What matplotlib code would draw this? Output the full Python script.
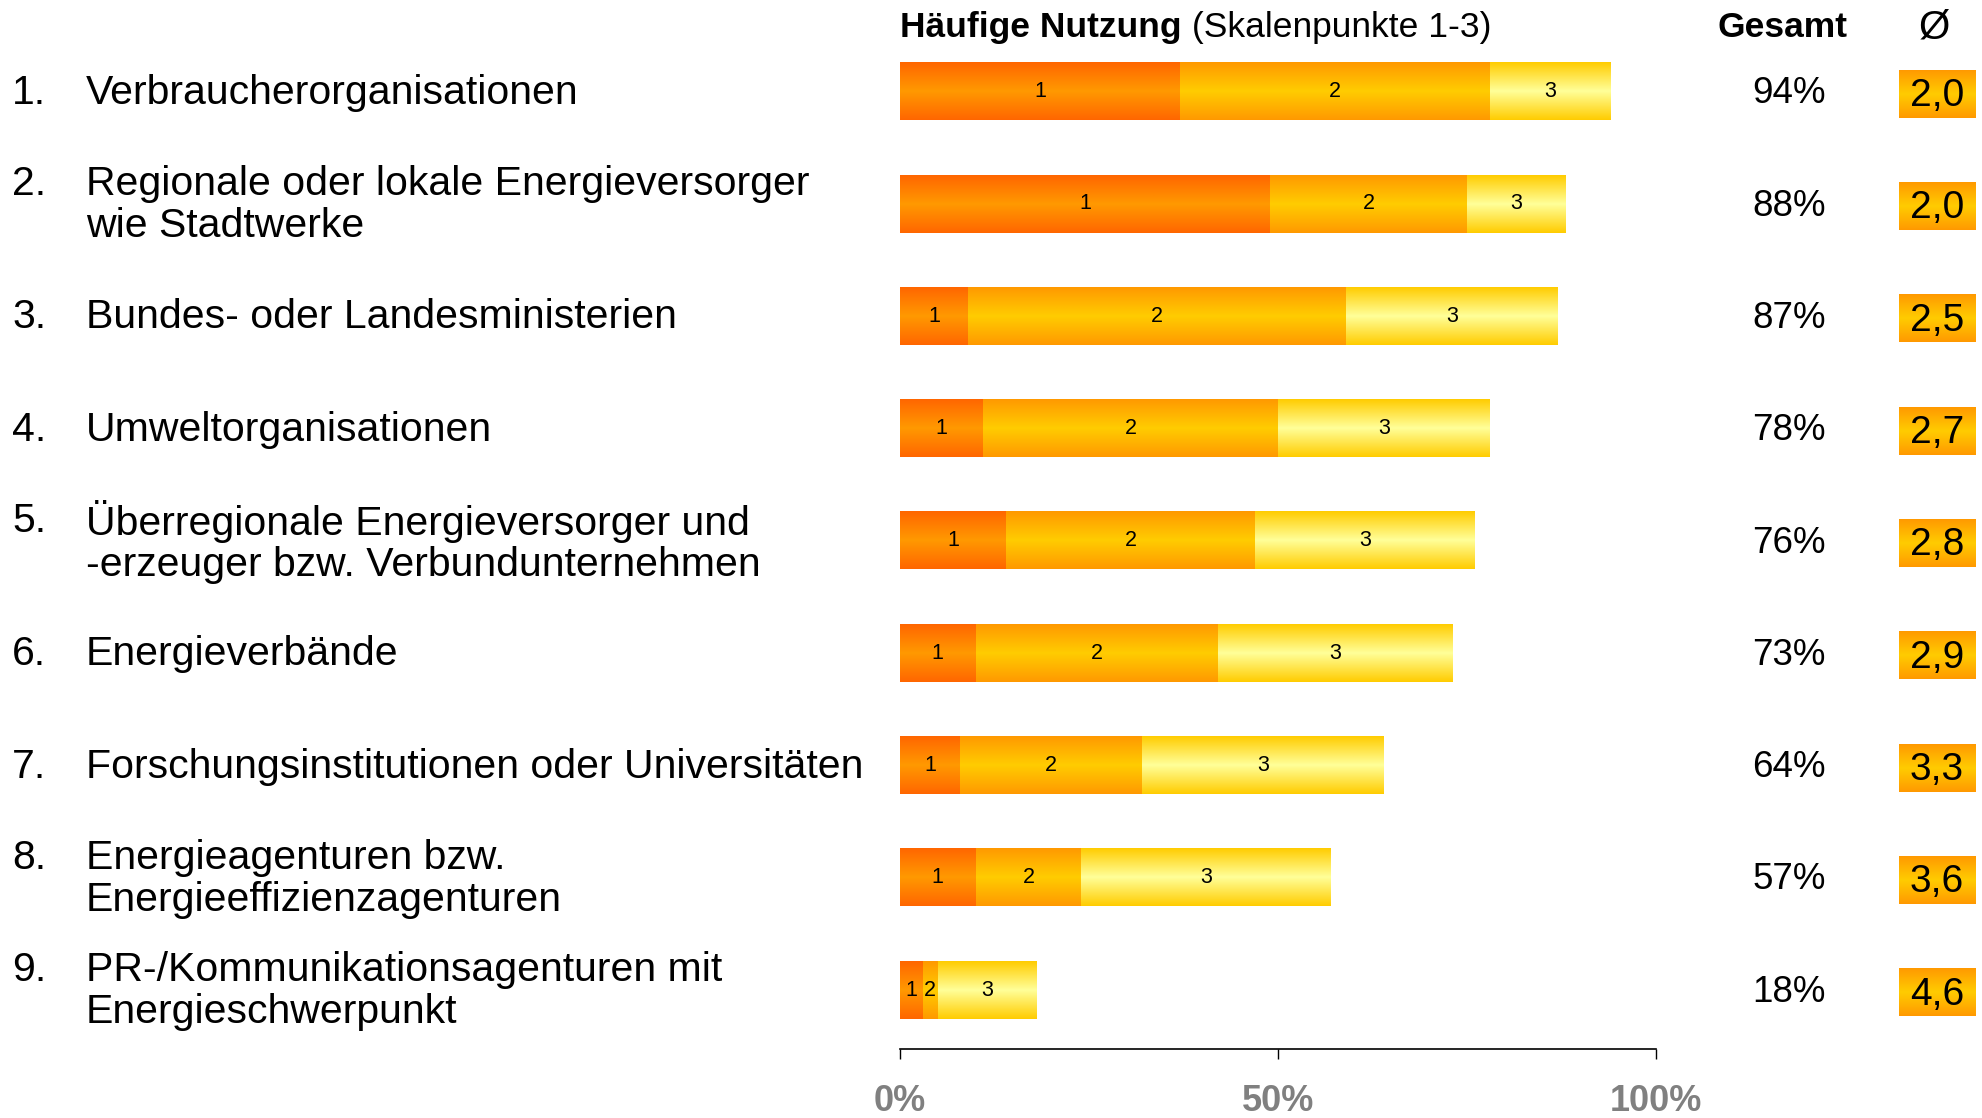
import numpy as np
import matplotlib
matplotlib.use("Agg")
import matplotlib.pyplot as plt
from matplotlib.colors import LinearSegmentedColormap
import matplotlib.transforms as mtransforms
from matplotlib import font_manager

plt.rcParams['font.family'] = ['Liberation Sans', 'DejaVu Sans']

# ---------------- data ----------------
labels = [
    "Verbraucherorganisationen",
    "Regionale oder lokale Energieversorger\nwie Stadtwerke",
    "Bundes- oder Landesministerien",
    "Umweltorganisationen",
    "Überregionale Energieversorger und\n-erzeuger bzw. Verbundunternehmen",
    "Energieverbände",
    "Forschungsinstitutionen oder Universitäten",
    "Energieagenturen bzw.\nEnergieeffizienzagenturen",
    "PR-/Kommunikationsagenturen mit\nEnergieschwerpunkt",
]
scale1 = [37, 49, 9, 11, 14, 10, 8, 10, 3]
scale2 = [41, 26, 50, 39, 33, 32, 24, 14, 2]
scale3 = [16, 13, 28, 28, 29, 31, 32, 33, 13]
gesamt = [94, 88, 87, 78, 76, 73, 64, 57, 18]
mean_vals = [2.0, 2.0, 2.5, 2.7, 2.8, 2.9, 3.3, 3.6, 4.6]
seg_names = ["1", "2", "3"]
xticks = [0, 50, 100]
xticklabels = ["0%", "50%", "100%"]

# ---------------- styling ----------------
W, H = 1982, 1118
fig = plt.figure(figsize=(W / 100, H / 100), dpi=100)
px_per_unit = 7.56
row_px = 112.3
ax_left_px = 900
ylim_bottom, ylim_top = 8.525, -0.75
ax_bottom_px = 1049
ax_top_px = ax_bottom_px - (ylim_bottom - ylim_top) * row_px
xmax = 142.5
ax = fig.add_axes([ax_left_px / W, 1 - ax_bottom_px / H,
                   xmax * px_per_unit / W, (ax_bottom_px - ax_top_px) / H])

grad_specs = [("#FF6600", "#FF9900"), ("#FF9900", "#FFCC00"), ("#FFCC00", "#FFFF99")]
box_spec = ("#FF9900", "#FFCC00")

N = 256
tri = np.abs(np.linspace(-1, 1, N)).reshape(-1, 1)


def gradient_fill(patch, edge, mid, z=2):
    cmap = LinearSegmentedColormap.from_list("g", [mid, edge])
    x, y = patch.get_x(), patch.get_y()
    w, h = patch.get_width(), patch.get_height()
    ax.imshow(tri, cmap=cmap, vmin=0, vmax=1, aspect='auto',
              extent=[x, x + w, y + h, y], zorder=z, interpolation='bilinear')
    patch.set_visible(False)


y = np.arange(len(labels))
bar_h = 0.51
lefts = np.zeros(len(labels))
for vals, name, (edge, mid) in zip([scale1, scale2, scale3], seg_names, grad_specs):
    vals = np.array(vals, dtype=float)
    bars = ax.barh(y, vals, left=lefts, height=bar_h)
    for b, v in zip(bars, vals):
        gradient_fill(b, edge, mid)
        ax.text(b.get_x() + b.get_width() / 2, b.get_y() + b.get_height() / 2, name,
                ha='center', va='center', fontsize=15.5, color='black', zorder=5)
    lefts += vals

# Gesamt column
x_gesamt = 117.6
for yi, g in zip(y, gesamt):
    ax.text(x_gesamt, yi + 0.02, f"{g}%", ha='center', va='center', fontsize=26.5,
            color='black')

# mean boxes
box_left, box_w = 132.1, 10.1
boxes = ax.barh(y + 0.02, [box_w] * len(y), left=box_left, height=0.427)
for b, m in zip(boxes, mean_vals):
    gradient_fill(b, *box_spec)
    ax.text(b.get_x() + b.get_width() / 2, b.get_y() + b.get_height() / 2 + 0.02,
            f"{m:.1f}".replace(".", ","), ha='center', va='center', fontsize=28,
            color='black', zorder=5)

# headers
hy = -0.57
t1 = ax.text(0, hy, "Häufige Nutzung", ha='left', va='center', fontsize=25.5,
             fontweight='bold')
fig.canvas.draw()
ax.annotate(" (Skalenpunkte 1-3)", xycoords=t1, xy=(1, 0), va='bottom', ha='left',
            fontsize=25.5)
ax.text(116.7, hy, "Gesamt", ha='center', va='center', fontsize=25.5, fontweight='bold')
ax.text(136.8, hy, "Ø", ha='center', va='center', fontsize=29)

# left labels
trans = mtransforms.blended_transform_factory(fig.transFigure, ax.transData)
for i, lab in enumerate(labels):
    nlines = lab.count("\n") + 1
    num = f"{i + 1}." + "\n " * (nlines - 1)
    ax.text(12 / W, i + 0.01, num, transform=trans, ha='left', va='center',
            fontsize=29.5, linespacing=1.12)
    ax.text(86 / W, i + 0.01, lab, transform=trans, ha='left', va='center',
            fontsize=29.5, linespacing=1.12)

# axes formatting
ax.set_xlim(0, xmax)
ax.set_ylim(ylim_bottom, ylim_top)
for s in ['top', 'right', 'left']:
    ax.spines[s].set_visible(False)
ax.spines['bottom'].set_bounds(0, 100)
ax.spines['bottom'].set_linewidth(1.2)
ax.set_yticks([])
ax.set_xticks(xticks)
narrow = [f for f in ['Liberation Sans Narrow', 'Liberation Sans']
          if any(fe.name == f for fe in font_manager.fontManager.ttflist)]
ax.set_xticklabels(xticklabels, fontsize=26, fontweight='bold', color='#808080',
                   family=narrow)
ax.tick_params(axis='x', direction='out', length=7, width=1, pad=18)
ax.patch.set_visible(False)

fig.savefig("out.png", dpi=100)
